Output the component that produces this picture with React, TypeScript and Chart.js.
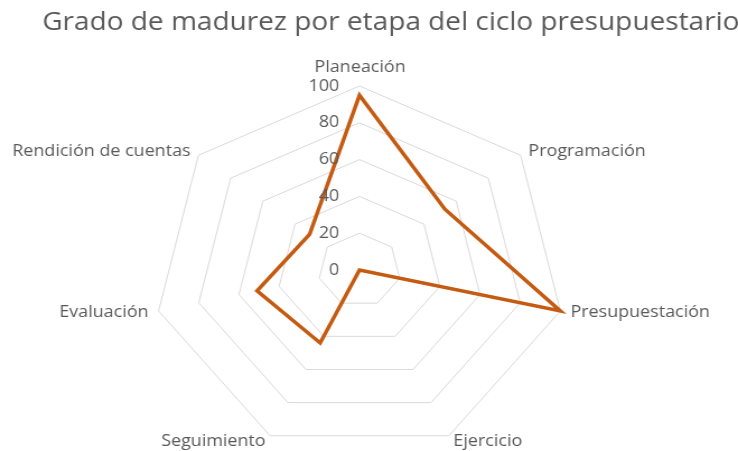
import React, { useEffect, useRef } from "react";
import { Chart, registerables } from "chart.js";

Chart.register(...registerables);

// ---- data ----
const categories = [
  "Planeación",
  "Programación",
  "Presupuestación",
  "Ejercicio",
  "Seguimiento",
  "Evaluación",
  "Rendición de cuentas",
];
const madurez = [95, 53, 100, 0, 44, 51, 31];
const tickValues = [0, 20, 40, 60, 80, 100];
const titleText = "Grado de madurez por etapa del ciclo presupuestario";

// ---- layout / style ----
const SX = 738 / 659; // the reference is stretched horizontally
const CW = 659;
const CH = 460;
const TEXT = "#595959";
const FONT = "'Open Sans', sans-serif";

// label offsets relative to the outer vertex of each axis
const labelOffsets: [number, number, CanvasTextAlign][] = [
  [0.5, -19, "center"],
  [7, -4, "left"],
  [9, 1, "left"],
  [4, 6, "left"],
  [-4, 6, "right"],
  [-9, 1, "right"],
  [-7, -4, "right"],
];

const labelPlugin = {
  id: "customLabels",
  afterDraw(chart: any) {
    const scale = chart.scales.r;
    const ctx: CanvasRenderingContext2D = chart.ctx;
    ctx.save();
    ctx.fillStyle = TEXT;
    ctx.textBaseline = "middle";

    // tick labels
    ctx.font = `16px ${FONT}`;
    ctx.textAlign = "right";
    tickValues.forEach((v) => {
      const d = scale.getDistanceFromCenterForValue(v);
      ctx.fillText(String(v), scale.xCenter - 18, scale.yCenter - d);
    });

    // point labels
    ctx.font = `16px ${FONT}`;
    categories.forEach((c, i) => {
      const p = scale.getPointPosition(i, scale.drawingArea);
      const [dx, dy, align] = labelOffsets[i];
      ctx.textAlign = align;
      ctx.fillText(c, p.x + dx, p.y + dy);
    });

    // title
    ctx.font = `25px ${FONT}`;
    ctx.textAlign = "center";
    ctx.fillText(titleText, 349, 23);
    ctx.restore();
  },
};

export default function App() {
  const ref = useRef<HTMLCanvasElement>(null);

  useEffect(() => {
    document.body.style.margin = "0";
    document.body.style.overflow = "hidden";
    const chart = new Chart(ref.current as HTMLCanvasElement, {
      type: "radar",
      data: {
        labels: categories,
        datasets: [
          {
            label: "Grado de madurez",
            data: madurez,
            borderColor: "#C55A11",
            backgroundColor: "rgba(0,0,0,0)",
            borderWidth: 3.5,
            fill: false,
            pointRadius: 0,
            pointHoverRadius: 0,
            clip: false as any,
          },
        ],
      },
      options: {
        responsive: false,
        animation: false,
        devicePixelRatio: 1,
        layout: { padding: { left: 100, right: 116, top: 86, bottom: 6 } },
        plugins: {
          legend: { display: false },
          title: { display: false },
          tooltip: { enabled: false },
        },
        scales: {
          r: {
            min: 0,
            max: 100,
            ticks: { stepSize: 20, display: false },
            pointLabels: { display: false },
            angleLines: { display: false },
            grid: { color: "#D9D9D9", lineWidth: 1 },
          },
        },
      },
      plugins: [labelPlugin],
    });
    return () => chart.destroy();
  }, []);

  return (
    <div style={{ width: 738, height: 451, overflow: "hidden", position: "relative", background: "#fff" }}>
      <canvas
        ref={ref}
        width={CW}
        height={CH}
        style={{
          width: CW,
          height: CH,
          display: "block",
          transform: `scaleX(${SX})`,
          transformOrigin: "0 0",
        }}
      />
    </div>
  );
}
